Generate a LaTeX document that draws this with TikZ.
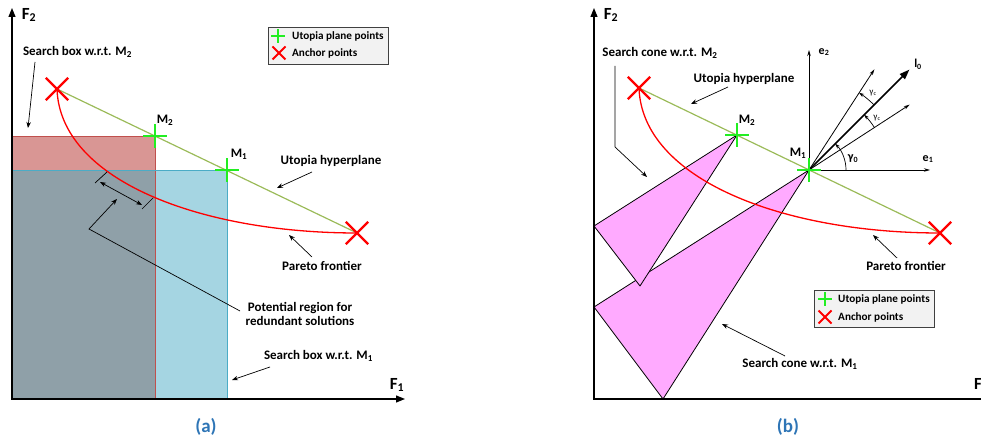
\documentclass[tikz,border=0pt]{standalone}
\usepackage{fontspec}
\setmainfont{Carlito}
\usetikzlibrary{arrows.meta,calc,shapes.misc,shadows}
\definecolor{boxred}{HTML}{D99694}
\definecolor{boxredline}{HTML}{C0504D}
\definecolor{boxblue}{HTML}{A5D5E2}
\definecolor{boxblueline}{HTML}{4BACC6}
\definecolor{boxgrey}{HTML}{8FA0A8}
\definecolor{utopiagreen}{HTML}{9BBB59}
\definecolor{markgreen}{HTML}{22EE22}
\definecolor{conepink}{HTML}{FFAAFF}
\definecolor{captionblue}{HTML}{2E75B6}
\definecolor{legendgrey}{HTML}{F2F2F2}
\tikzset{
  axisline/.style={line width=1.2pt, {Triangle[length=9pt,width=7pt]}-{Triangle[length=9pt,width=7pt]}},
  axislabel/.style={font=\bfseries\fontsize{17}{19}\selectfont, inner sep=0pt},
  annot/.style={font=\bfseries\fontsize{13}{14.5}\selectfont, align=center, inner sep=0pt},
  legendtext/.style={font=\bfseries\fontsize{11.2}{12}\selectfont, anchor=west, inner sep=0pt},
  smallannot/.style={font=\bfseries\fontsize{12}{13}\selectfont, inner sep=0pt},
  pointer/.style={-{Stealth[length=6pt,width=4.5pt]}, line width=0.7pt},
  dimarrow/.style={{Stealth[length=6pt,width=4.5pt]}-{Stealth[length=6pt,width=4.5pt]}, line width=0.7pt},
  unitvec/.style={-{Stealth[length=6pt,width=3.5pt]}, line width=0.8pt},
  mainray/.style={-{Triangle[length=10pt,width=7pt]}, line width=1.6pt},
  anglearc/.style={-{Stealth[length=5pt,width=3.5pt]}, line width=0.7pt},
  anglelabel/.style={font=\fontsize{9}{10}\selectfont, inner sep=0pt},
  anchormark/.style={cross out, draw=red, line width=2.4pt, minimum size=20pt, inner sep=0pt},
  utopiamark/.style={cross out, rotate=45, draw=markgreen, line width=2.8pt, minimum size=14pt, inner sep=0pt},
  legendanchor/.style={cross out, draw=red, line width=2pt, minimum size=11pt, inner sep=0pt},
  legendutopia/.style={cross out, rotate=45, draw=markgreen, line width=2.4pt, minimum size=7.5pt, inner sep=0pt},
  legendbox/.style={draw=black!75, fill=legendgrey, line width=0.8pt, minimum width=120pt, minimum height=37pt,
    drop shadow={shadow xshift=1.2pt, shadow yshift=-1.2pt, fill=black!60, opacity=1}},
  utopialine/.style={draw=utopiagreen, line width=1.2pt},
  paretoline/.style={draw=red, line width=1.3pt},
  conefill/.style={fill=conepink, draw=black, line width=0.8pt, line join=round},
  panelcaption/.style={font=\bfseries\fontsize{19}{21}\selectfont, text=captionblue}
}

\begin{document}
\begin{tikzpicture}[x=1pt,y=1pt]
\useasboundingbox (0,0) rectangle (981,441);
\clip (0,0) rectangle (981,441);

% panel (a)
\coordinate (Oa) at (12,42);
\coordinate (F2a) at (12,433);
\coordinate (F1a) at (405,42);
\coordinate (A1a) at (57,352);
\coordinate (A2a) at (357,208);
\coordinate (M2a) at (155,305);
\coordinate (M1a) at (227,271);
\fill[boxblue] (Oa) rectangle (M1a);
\fill[boxred] (Oa) rectangle (M2a);
\fill[boxgrey] (Oa) rectangle (M2a |- M1a);
\draw[boxredline, line width=0.9pt] (Oa) rectangle (M2a);
\draw[boxblueline, line width=0.9pt] (Oa) rectangle (M1a);
\draw[axisline] (F2a) -- (Oa) -- (F1a);
\node[axislabel] (f2a) at (29,426) {F\textsubscript{2}};
\node[axislabel] (f1a) at (397,56) {F\textsubscript{1}};

\draw[utopialine] (A1a) -- (A2a);
\draw[paretoline] (A1a) .. controls (60,261) and (200,208) .. (A2a);
\node[anchormark] (xA1a) at (A1a) {};
\node[anchormark] (xA2a) at (A2a) {};
\node[utopiamark] (pM2a) at (M2a) {};
\node[utopiamark] (pM1a) at (M1a) {};
\node[annot] (lM2a) at (165,321) {M\textsubscript{2}};
\node[annot] (lM1a) at (239,287) {M\textsubscript{1}};

\node[legendbox] (lega) at (328,395.5) {};
\node[legendutopia] (legpa) at (278,405) {};
\node[legendtext] (legta) at (292,405) {Utopia plane points};
\node[legendanchor] (legxa) at (279,388) {};
\node[legendtext] (legtb) at (292,388) {Anchor points};

\node[annot] (boxtwo) at (77.5,389) {Search box w.r.t. M\textsubscript{2}};
\coordinate (boxtwotail) at (35,379);
\coordinate (boxtwohead) at (28,313);
\draw[pointer] (boxtwotail) -- (boxtwohead);

\node[annot] (hypa) at (331,280) {Utopia hyperplane};
\coordinate (hypatail) at (312,269);
\coordinate (hypahead) at (277,253);
\draw[pointer] (hypatail) -- (hypahead);

\coordinate (dimA) at (100,259);
\coordinate (dimB) at (142,236);
\draw[dimarrow] (dimA) -- (dimB);
\coordinate (tickA1) at (95,258);
\coordinate (tickA2) at (107,269);
\coordinate (tickB1) at (142,232);
\coordinate (tickB2) at (153,243);
\draw[line width=0.7pt] (tickA1) -- (tickA2);
\draw[line width=0.7pt] (tickB1) -- (tickB2);

\node[annot] (redund) at (300,127) {Potential region for\\redundant solutions};
\coordinate (redtail) at (240,130);
\coordinate (redbend) at (89,212);
\coordinate (redhead) at (117,242);
\draw[pointer] (redtail) -- (redbend) -- (redhead);

\node[annot] (pareta) at (322,175) {Pareto frontier};
\coordinate (paretail) at (312,184);
\coordinate (parehead) at (289,206);
\draw[pointer] (paretail) -- (parehead);

\node[annot] (boxone) at (318.5,85) {Search box w.r.t. M\textsubscript{1}};
\coordinate (boxonetail) at (270,74);
\coordinate (boxonehead) at (232,61);
\draw[pointer] (boxonetail) -- (boxonehead);

\node[panelcaption] (capa) at (206,14) {(a)};

% panel (b)
\coordinate (Ob) at (594,42);
\coordinate (F2b) at (594,433);
\coordinate (F1b) at (990,42);
\coordinate (A1b) at (639,353);
\coordinate (A2b) at (940,208);
\coordinate (M2b) at (737,306);
\coordinate (M1b) at (809,271);
\coordinate (coneTa) at (594,215);
\coordinate (coneTb) at (640,155);
\coordinate (coneOa) at (594,134);
\coordinate (coneOb) at (663,42);
\draw[conefill] (M1b) -- (coneOa) -- (coneOb) -- cycle;
\draw[conefill] (M2b) -- (coneTa) -- (coneTb) -- cycle;
\draw[axisline] (F2b) -- (Ob) -- (F1b);
\node[axislabel] (f2b) at (611,426) {F\textsubscript{2}};
\node[axislabel, anchor=west] (f1b) at (974,56) {F\textsubscript{1}};

\draw[utopialine] (A1b) -- (A2b);
\draw[paretoline] (A1b) .. controls (642,262) and (782,208) .. (A2b);

\coordinate (e2tip) at (809,391);
\coordinate (e1tip) at (930,271);
\coordinate (l0tip) at ($(M1b)+(45:142)$);
\coordinate (rayup) at ($(M1b)+(57:120)$);
\coordinate (raylow) at ($(M1b)+(33:120)$);
\draw[unitvec] (M1b) -- (e2tip);
\draw[unitvec] (M1b) -- (e1tip);
\draw[unitvec] (M1b) -- (rayup);
\draw[unitvec] (M1b) -- (raylow);
\draw[mainray] (M1b) -- (l0tip);
\draw[anglearc] ($(M1b)+(0:37)$) arc[start angle=0, end angle=45, radius=37];
\draw[anglearc] ($(M1b)+(33:78)$) arc[start angle=33, end angle=45, radius=78];
\draw[anglearc] ($(M1b)+(45:92)$) arc[start angle=45, end angle=57, radius=92];
\node[smallannot] (le2) at (824,389) {e\textsubscript{2}};
\node[smallannot] (le1) at (928,282) {e\textsubscript{1}};
\node[smallannot] (ll0) at (918,377) {l\textsubscript{0}};
\node[smallannot] (lg0) at (853,282) {γ\textsubscript{0}};
\node[anglelabel] (lgc1) at (877,323) {γ\textsubscript{c}};
\node[anglelabel] (lgc2) at (873,348) {γ\textsubscript{c}};

\node[anchormark] (xA1b) at (A1b) {};
\node[anchormark] (xA2b) at (A2b) {};
\node[utopiamark] (pM2b) at (M2b) {};
\node[utopiamark] (pM1b) at (M1b) {};
\node[annot] (lM2b) at (747,321) {M\textsubscript{2}};
\node[annot] (lM1b) at (798,288) {M\textsubscript{1}};

\node[annot] (conetwo) at (660,388) {Search cone w.r.t. M\textsubscript{2}};
\coordinate (conetwotail) at (615,375);
\coordinate (conetwobend) at (615,294);
\coordinate (conetwohead) at (647,264);
\draw[pointer] (conetwotail) -- (conetwobend) -- (conetwohead);

\node[annot] (hypb) at (744,362) {Utopia hyperplane};
\coordinate (hypbtail) at (728,354);
\coordinate (hypbhead) at (691,337);
\draw[pointer] (hypbtail) -- (hypbhead);

\node[annot] (paretb) at (906,175) {Pareto frontier};
\coordinate (parebtail) at (897,183);
\coordinate (parebhead) at (873,206);
\draw[pointer] (parebtail) -- (parebhead);

\node[legendbox] (legb) at (874,132.5) {};
\node[legendutopia] (legpb) at (825,142) {};
\node[legendtext] (legtc) at (838,142) {Utopia plane points};
\node[legendanchor] (legxb) at (825,124) {};
\node[legendtext] (legtd) at (838,124) {Anchor points};

\node[annot] (coneone) at (800,77) {Search cone w.r.t. M\textsubscript{1}};
\coordinate (coneonetail) at (785,85);
\coordinate (coneonehead) at (722,117);
\draw[pointer] (coneonetail) -- (coneonehead);

\node[panelcaption] (capb) at (788,14) {(b)};
\end{tikzpicture}
\end{document}
